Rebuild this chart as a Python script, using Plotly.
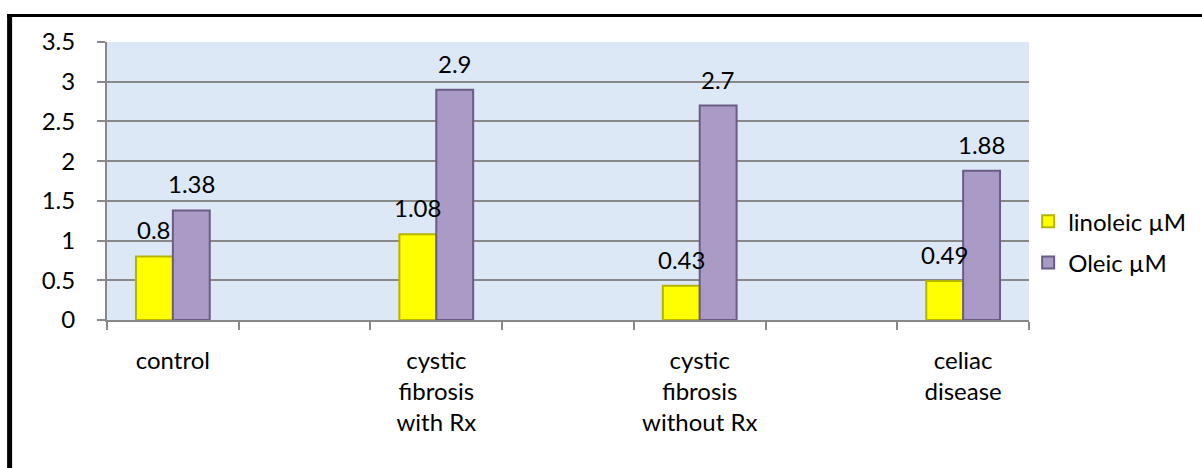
import plotly.graph_objects as go

categories = ["control", " ", "cystic<br>fibrosis<br>with Rx", "  ", "cystic<br>fibrosis<br>without Rx", "   ", "celiac<br>disease"]
linoleic = [0.8, None, 1.08, None, 0.43, None, 0.49]
oleic = [1.38, None, 2.9, None, 2.7, None, 1.88]
series_names = ["linoleic µM", "Oleic µM"]
y_ticks = [0, 0.5, 1, 1.5, 2, 2.5, 3, 3.5]
y_tick_text = ["0", "0.5", "1", "1.5", "2", "2.5", "3", "3.5"]

FONT = "Lato"
FS = 24

fig = go.Figure()
fig.add_trace(go.Bar(
    x=categories, y=linoleic, name=series_names[0], legendgroup="a",
    marker=dict(color="#FFFF00", line=dict(color="#B5B500", width=2)),
))
fig.add_trace(go.Bar(
    x=categories, y=oleic, name=series_names[1], legendgroup="b",
    marker=dict(color="#A99AC6", line=dict(color="#6A5C84", width=2)),
))

BARGAP = 0.44
plot_w = 923
cat_w = plot_w / len(categories)
bar_w = cat_w * (1 - BARGAP) / 2

annotations = []
for vals, sign in ((linoleic, -1), (oleic, 1)):
    for c, v in zip(categories, vals):
        if v is None:
            continue
        annotations.append(dict(
            x=c, y=v, xref="x", yref="y", text=f"{v:g}", showarrow=False,
            yanchor="bottom", xanchor="center", xshift=sign * bar_w / 2, yshift=10,
            font=dict(family=FONT, size=FS, color="black"),
        ))

shapes = [
    dict(type="line", xref="paper", yref="paper",
         x0=(9.5 - 107) / 923, x1=(9.5 - 107) / 923, y0=(320 - 14) / 278, y1=(320 - 470) / 278,
         line=dict(color="black", width=5)),
    dict(type="line", xref="paper", yref="paper",
         x0=(7 - 107) / 923, x1=(1210 - 107) / 923, y0=(320 - 15.5) / 278, y1=(320 - 15.5) / 278,
         line=dict(color="black", width=3)),
]

fig.update_layout(
    width=1202, height=468,
    margin=dict(l=107, r=172, t=42, b=148),
    paper_bgcolor="white", plot_bgcolor="#DCE8F5",
    barmode="group", bargap=BARGAP, bargroupgap=0,
    font=dict(family=FONT, size=FS, color="black"),
    showlegend=True,
    legend=dict(x=0.998, y=0.28, xanchor="left", yanchor="middle",
                font=dict(family=FONT, size=FS, color="black"),
                tracegroupgap=7, bgcolor="rgba(0,0,0,0)"),
    annotations=annotations,
    shapes=shapes,
)
fig.update_xaxes(
    type="category", tickson="boundaries", ticks="outside", ticklen=8, tickwidth=1.5,
    tickcolor="#888888", showline=True, linecolor="#888888", linewidth=2,
    showgrid=False, tickfont=dict(family=FONT, size=FS, color="black"),
    ticklabelstandoff=18,
)
fig.update_yaxes(
    range=[0, 3.5], tickvals=y_ticks, ticktext=y_tick_text,
    ticks="outside", ticklen=8, tickwidth=1.5, tickcolor="#888888",
    showline=True, linecolor="#888888", linewidth=2,
    showgrid=True, gridcolor="#888888", gridwidth=2, zeroline=False,
    tickfont=dict(family=FONT, size=FS, color="black"),
    ticklabelstandoff=17,
)
fig.write_html("out.html", config={"displayModeBar": False},
               post_script="document.body.style.margin='0';")
